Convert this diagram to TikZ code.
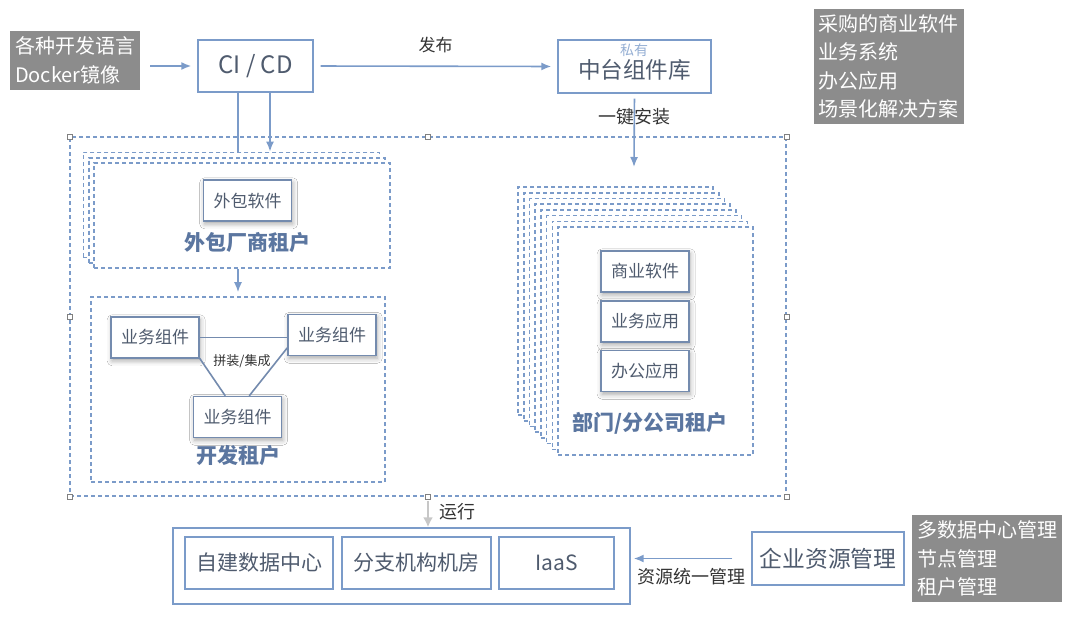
\documentclass[tikz,border=0pt]{standalone}
\usepackage{fontspec}
\setmainfont{Noto Sans CJK SC}
\usepackage{tikz}
\usetikzlibrary{arrows.meta}
\usetikzlibrary{calc}
\usetikzlibrary{shadows.blur}
\definecolor{lineblue}{HTML}{7B9BC9}
\definecolor{labelblue}{HTML}{5B76A0}
\definecolor{boxgray}{HTML}{8C8C8C}
\definecolor{textgray}{HTML}{4F5B6E}
\tikzset{plain box/.style={draw=lineblue,line width=0.7pt,fill=white,inner sep=0,text=textgray}}
\tikzset{comp box/.style={draw=labelblue!85,line width=0.7pt,fill=white,minimum width=44pt,minimum height=20.5pt,inner sep=0,text=textgray,font=\fontsize{8.5}{10}\selectfont,blur shadow={shadow xshift=0.6pt,shadow yshift=-1.4pt,shadow blur radius=2.5pt,shadow opacity=35}}}
\tikzset{tenant box/.style={draw=lineblue,dash pattern=on 2pt off 1.5pt,line width=0.8pt,fill=white,inner sep=0}}
\tikzset{tenant label/.style={text=labelblue,font=\fontsize{10.5}{12}\selectfont\bfseries}}
\tikzset{gray label/.style={fill=boxgray,text=white,align=left,inner xsep=2.5pt,inner ysep=3pt,font=\fontsize{10}{14.2}\selectfont}}
\tikzset{flow/.style={draw=lineblue,line width=0.8pt,-{Latex[length=5pt,width=4pt]}}}
\tikzset{handle/.style={draw=gray,fill=white,minimum size=2.5pt,inner sep=0,line width=0.3pt}}

\begin{document}
\begin{tikzpicture}[x=0.5pt,y=-0.5pt]
            \useasboundingbox (0,0) rectangle (1080,616);

            %顶部
            \node[gray label] (src) at (75,60.5) {各种开发语言\\Docker镜像};
            \node[plain box,minimum width=57.5pt,minimum height=26pt,font=\fontsize{12}{14}\selectfont] (cicd) at (255.5,66) {CI / CD};
            \node[plain box,minimum width=76.5pt,minimum height=26.5pt] (repo) at (634.5,66.5) {};
            \node[text=textgray,font=\fontsize{11.3}{13}\selectfont] (repotext) at (634.5,70) {中台组件库};
            \node[text=lineblue!80,font=\fontsize{7}{8}\selectfont] (private) at (634,50) {私有};
            \node[gray label] (buy) at (888.5,66.5) {采购的商业软件\\业务系统\\办公应用\\场景化解决方案};

            \draw[flow,shorten <=5pt,shorten >=3pt] (src.east |- cicd.west) -- (cicd.west);
            \draw[flow,shorten <=3.5pt,shorten >=3pt] (cicd.east) -- (repo.west)
              node[midway,above=3pt,text=black!80,font=\fontsize{8.5}{10}\selectfont] (publish) {发布};
            \coordinate (install) at (634,167);
            \draw[flow,shorten <=2.5pt] (repo.south) -- (install)
              node[pos=0.31,text=black!80,font=\fontsize{9}{10}\selectfont] (installtext) {一键安装};

            %平台
            \node[tenant box,fill=none,line width=0.7pt,minimum width=358pt,minimum height=179.5pt] (platform) at (428,316.5) {};
            \foreach \a in {north west,north,north east,west,east,south west,south,south east}
              \node[handle] (h-\a) at (platform.\a) {};

            %外包厂商租户
            \foreach \i in {1,2,3}
              \node[tenant box,minimum width=148pt,minimum height=52.5pt] (ob\i) at ({242-5.3*(3-\i)},{215.5-5.3*(3-\i)}) {};
            \node[comp box] (outsw) at (247.5,200.5) {外包软件};
            \node[tenant label] (outlabel) at (247,243) {外包厂商租户};
            \draw[draw=lineblue,line width=0.8pt] ([xshift=-8.75pt]cicd.south) -- ([xshift=-8.75pt]cicd.south |- ob1.north);
            \draw[flow] ([xshift=7.25pt]cicd.south) -- ([xshift=7.25pt]cicd.south |- ob1.north);

            %开发租户
            \node[tenant box,minimum width=147pt,minimum height=92.5pt] (dev) at (238,389.5) {};
            \draw[flow,shorten >=2pt] (ob3.south -| dev.north) -- (dev.north);
            \node[comp box] (bc1) at (155,337.5) {业务组件};
            \node[comp box] (bc2) at (332,335) {业务组件};
            \node[comp box] (bc3) at (237.5,417) {业务组件};
            \draw[draw=labelblue!85,line width=0.8pt] (bc1.east) -- (bc2.west |- bc1.east);
            \draw[draw=labelblue!85,line width=0.8pt] (bc1.-25) -- (bc3.120);
            \draw[draw=labelblue!85,line width=0.8pt] (bc2.196) -- (bc3.61);
            \node[text=black!80,font=\fontsize{6.5}{8}\selectfont] (assemble) at (242,361) {拼装/集成};
            \node[tenant label] (devlabel) at (238,456) {开发租户};

            %部门/分公司租户
            \foreach \i in {1,...,8}
              \node[tenant box,minimum width=97.5pt,minimum height=114pt] (dp\i) at ({655.5-5.7*(8-\i)},{341-5.7*(8-\i)}) {};
            \node[comp box] (bizsw) at (645,271.5) {商业软件};
            \node[comp box] (bizapp) at (645,321.5) {业务应用};
            \node[comp box] (office) at (645,371) {办公应用};
            \node[tenant label] (deptlabel) at (650,423) {部门/分公司租户};

            %基础设施
            \node[plain box,minimum width=228.5pt,minimum height=38pt] (infra) at (401.5,566) {};
            \node[plain box,minimum width=74pt,minimum height=26pt,font=\fontsize{10.5}{12}\selectfont] (dc) at (259,563) {自建数据中心};
            \node[plain box,minimum width=74.5pt,minimum height=26pt,font=\fontsize{10.5}{12}\selectfont] (branch) at (416.5,563) {分支机构机房};
            \node[plain box,minimum width=57.5pt,minimum height=26pt,font=\fontsize{10.5}{12}\selectfont] (iaas) at (556.5,563) {IaaS};
            \draw[draw=black!22,line width=1.2pt,-{Latex[length=5pt,width=5pt]},shorten <=2pt] (platform.south) -- (platform.south |- infra.north)
              node[midway,right=2pt,text=black!80,font=\fontsize{9}{10}\selectfont] (run) {运行};

            %资源管理
            \node[plain box,minimum width=76pt,minimum height=26.5pt,font=\fontsize{11.4}{13}\selectfont] (erp) at (828,558.5) {企业资源管理};
            \node[gray label] (mgmt) at (987,558.5) {多数据中心管理\\节点管理\\租户管理};
            \draw[flow,shorten <=9.5pt,shorten >=1.5pt] (erp.west) -- (erp.west -| infra.east)
              node[midway,below=1pt,text=black!80,font=\fontsize{9}{10}\selectfont] (unify) {资源统一管理};

          \end{tikzpicture}
\end{document}
